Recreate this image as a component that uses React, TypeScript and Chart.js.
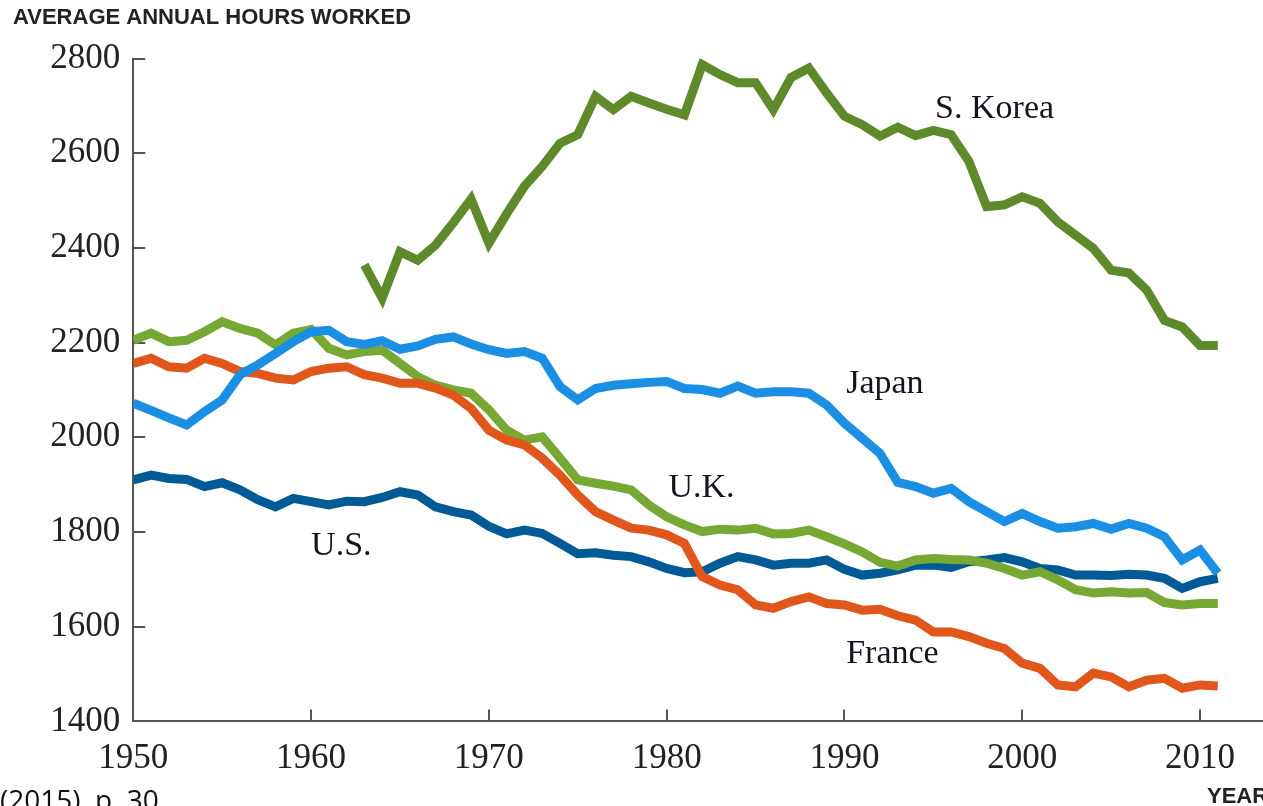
import React, { useEffect, useRef } from "react";
import { Chart, registerables } from "chart.js";

Chart.register(...registerables);

// ---- data ----
const years = [
  1950, 1951, 1952, 1953, 1954, 1955, 1956, 1957, 1958, 1959,
  1960, 1961, 1962, 1963, 1964, 1965, 1966, 1967, 1968, 1969,
  1970, 1971, 1972, 1973, 1974, 1975, 1976, 1977, 1978, 1979,
  1980, 1981, 1982, 1983, 1984, 1985, 1986, 1987, 1988, 1989,
  1990, 1991, 1992, 1993, 1994, 1995, 1996, 1997, 1998, 1999,
  2000, 2001, 2002, 2003, 2004, 2005, 2006, 2007, 2008, 2009,
  2010, 2011,
];

const koreaHours = [
  null, null, null, null, null, null, null, null, null, null,
  null, null, null, 2364, 2294, 2392, 2374, 2406, 2453, 2503,
  2410, 2472, 2530, 2572, 2621, 2639, 2720, 2692, 2720, 2706,
  2693, 2681, 2787, 2766, 2749, 2749, 2692, 2760, 2780, 2727,
  2678, 2660, 2636, 2655, 2637, 2648, 2639, 2583, 2487, 2491,
  2508, 2494, 2455, 2427, 2399, 2353, 2347, 2311, 2247, 2233,
  2194, 2194,
];

const japanHours = [
  2072, 2057, 2041, 2026, 2054, 2079, 2132, 2153, 2177, 2202,
  2223, 2226, 2202, 2196, 2204, 2186, 2193, 2207, 2212, 2197,
  2185, 2177, 2181, 2167, 2107, 2079, 2103, 2110, 2113, 2116,
  2118, 2103, 2101, 2093, 2108, 2093, 2096, 2096, 2093, 2068,
  2030, 1998, 1966, 1905, 1896, 1882, 1892, 1864, 1843, 1822,
  1839, 1822, 1808, 1811, 1818, 1806, 1818, 1808, 1790, 1741,
  1762, 1713,
];

const franceHours = [
  2156, 2167, 2149, 2146, 2167, 2156, 2139, 2135, 2125, 2121,
  2139, 2146, 2149, 2132, 2125, 2114, 2114, 2104, 2089, 2061,
  2015, 1994, 1984, 1956, 1920, 1878, 1843, 1825, 1808, 1804,
  1794, 1776, 1706, 1688, 1678, 1646, 1639, 1653, 1663, 1649,
  1646, 1635, 1637, 1623, 1614, 1589, 1589, 1579, 1565, 1554,
  1523, 1512, 1477, 1473, 1502, 1494, 1473, 1487, 1491, 1470,
  1477, 1475,
];

const ukHours = [
  2205, 2220, 2202, 2205, 2223, 2244, 2230, 2220, 2195, 2220,
  2228, 2188, 2174, 2181, 2184, 2156, 2128, 2110, 2100, 2093,
  2058, 2015, 1994, 2001, 1956, 1910, 1903, 1897, 1889, 1857,
  1832, 1815, 1801, 1806, 1804, 1808, 1796, 1797, 1804, 1790,
  1775, 1758, 1736, 1728, 1741, 1744, 1742, 1741, 1734, 1723,
  1709, 1716, 1699, 1678, 1671, 1674, 1671, 1672, 1651, 1646,
  1649, 1649,
];

const usHours = [
  1910, 1920, 1913, 1911, 1896, 1904, 1889, 1868, 1853, 1871,
  1864, 1857, 1865, 1864, 1873, 1885, 1878, 1853, 1843, 1836,
  1812, 1796, 1804, 1797, 1776, 1754, 1756, 1751, 1748, 1737,
  1723, 1714, 1716, 1734, 1748, 1741, 1730, 1734, 1734, 1741,
  1721, 1709, 1713, 1720, 1730, 1730, 1725, 1737, 1741, 1746,
  1737, 1723, 1720, 1709, 1709, 1708, 1711, 1709, 1702, 1681,
  1695, 1702,
];

// series, listed top-most first (Chart.js draws index 0 last)
const seriesNames = ["S. Korea", "Japan", "France", "U.K.", "U.S."];
const seriesValues = [koreaHours, japanHours, franceHours, ukHours, usHours];
const seriesColors = ["#5f8a2b", "#1a8fe3", "#e0561b", "#76a833", "#005a95"];

// in-chart series labels, anchored in data units (left edge, baseline)
const labelYears = [1995.1, 1990.1, 1990.1, 1980.1, 1960.0];
const labelHours = [2674, 2094, 1523, 1873, 1751];

const yAxisTitle = "AVERAGE ANNUAL HOURS WORKED";
const xAxisTitle = "YEAR";
const sourceNote = "(2015), p. 30";

const xMin = 1950;
const xMax = 2013.5;
const xStep = 10;
const yMin = 1400;
const yMax = 2800;
const yStep = 200;

const annotationPlugin = {
  id: "annotations",
  afterDraw(chart: any) {
    const ctx = chart.ctx;
    const xs = chart.scales.x;
    const ys = chart.scales.y;
    ctx.save();
    ctx.fillStyle = "#141420";
    ctx.textAlign = "left";
    ctx.textBaseline = "alphabetic";
    ctx.font = "34px 'Liberation Serif'";
    seriesNames.forEach((name, i) => {
      ctx.fillText(name, xs.getPixelForValue(labelYears[i]), ys.getPixelForValue(labelHours[i]));
    });
    ctx.fillStyle = "#222222";
    ctx.font = "bold 22px 'Liberation Sans'";
    ctx.fillText(yAxisTitle, 13, 24);
    ctx.fillText(xAxisTitle, 1207, 803);
    ctx.fillStyle = "#111111";
    ctx.font = "28px 'Open Sans'";
    ctx.fillText(sourceNote, 0, 810);
    ctx.restore();
  },
};

export default function App() {
  const canvasRef = useRef<HTMLCanvasElement | null>(null);

  useEffect(() => {
    const canvas = canvasRef.current;
    if (!canvas) return;
    const tickFont = { family: "'Liberation Serif'", size: 35 };
    const chart = new Chart(canvas, {
      type: "line",
      data: {
        datasets: seriesNames.map((name, i) => ({
          label: name,
          data: years.map((yr, j) => ({ x: yr, y: seriesValues[i][j] })),
          borderColor: seriesColors[i],
          backgroundColor: seriesColors[i],
          borderWidth: 9,
          borderCapStyle: "butt",
          borderJoinStyle: "miter",
          pointRadius: 0,
          pointHoverRadius: 0,
          tension: 0,
          spanGaps: false,
          fill: false,
        })),
      },
      options: {
        responsive: false,
        animation: false,
        devicePixelRatio: 1,
        layout: { padding: { top: 58.5, left: 0, right: 0, bottom: 0 } },
        plugins: {
          legend: { display: false },
          tooltip: { enabled: false },
          title: { display: false },
        },
        scales: {
          x: {
            type: "linear",
            position: "bottom",
            min: xMin,
            max: xMax,
            afterFit: (s: any) => {
              s.height = 84.6;
            },
            border: { display: true, color: "#555555", width: 2 },
            grid: {
              drawOnChartArea: false,
              drawTicks: true,
              tickLength: -12,
              color: "#555555",
              lineWidth: 2,
            },
            ticks: {
              stepSize: xStep,
              includeBounds: false,
              autoSkip: false,
              maxRotation: 0,
              padding: 28,
              color: "#222222",
              font: tickFont,
              callback: (v: any) => String(v),
            },
          },
          y: {
            type: "linear",
            position: "left",
            min: yMin,
            max: yMax,
            afterFit: (s: any) => {
              s.width = 133.3;
            },
            border: { display: true, color: "#555555", width: 2 },
            grid: {
              drawOnChartArea: false,
              drawTicks: true,
              tickLength: -12,
              color: "#555555",
              lineWidth: 2,
            },
            ticks: {
              stepSize: yStep,
              padding: 25,
              color: "#222222",
              font: tickFont,
              callback: (v: any) => String(v),
            },
          },
        },
      },
      plugins: [annotationPlugin],
    } as any);
    return () => chart.destroy();
  }, []);

  return (
    <div style={{ position: "absolute", left: 0, top: 0, width: 1263, height: 806, background: "#ffffff", overflow: "hidden" }}>
      <canvas ref={canvasRef} width={1263} height={806} style={{ display: "block" }} />
    </div>
  );
}
